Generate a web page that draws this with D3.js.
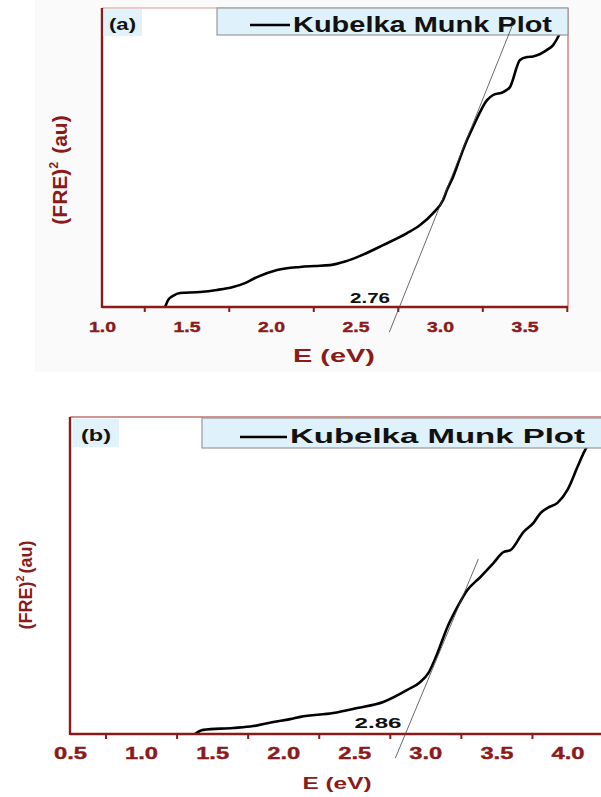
<!DOCTYPE html>
<html>
<head>
<meta charset="utf-8">
<script src="https://d3js.org/d3.v7.min.js"></script>
<style>
  body { margin: 0; background: #fff; }
  svg { display: block; font-family: "Liberation Sans", Arial, sans-serif; }
</style>
</head>
<body>
<svg id="chart" width="601" height="797"></svg>
<script>
// panel (a) curve: photon energy (eV) vs (FRE)^2, normalised to the plot height
var energyA = [1.373, 1.391, 1.420, 1.462, 1.580, 1.680, 1.775, 1.846, 1.917, 2.036, 2.172, 2.260, 2.349, 2.438, 2.527, 2.663, 2.805, 2.882, 2.959, 3.018, 3.041, 3.077, 3.118, 3.160, 3.195, 3.278, 3.314, 3.373, 3.414, 3.473, 3.515, 3.550, 3.633, 3.669, 3.698, 3.734];
var freA    = [0.000, 0.023, 0.037, 0.047, 0.050, 0.057, 0.067, 0.080, 0.100, 0.124, 0.134, 0.137, 0.140, 0.152, 0.171, 0.207, 0.247, 0.274, 0.314, 0.358, 0.391, 0.435, 0.498, 0.559, 0.602, 0.692, 0.709, 0.719, 0.736, 0.826, 0.836, 0.838, 0.860, 0.876, 0.903, 0.950];
// panel (b) curve
var energyB = [1.380, 1.437, 1.648, 1.789, 1.930, 2.049, 2.120, 2.352, 2.521, 2.704, 2.873, 2.965, 3.021, 3.085, 3.155, 3.225, 3.296, 3.387, 3.479, 3.549, 3.599, 3.690, 3.761, 3.810, 3.859, 3.930, 4.000, 4.070, 4.113, 4.162, 4.211];
var freB    = [0.000, 0.013, 0.019, 0.025, 0.038, 0.047, 0.054, 0.066, 0.082, 0.101, 0.139, 0.164, 0.192, 0.255, 0.337, 0.400, 0.454, 0.495, 0.539, 0.574, 0.580, 0.637, 0.666, 0.697, 0.713, 0.729, 0.770, 0.842, 0.886, 0.927, 0.970];

// tangent (extrapolation) lines, [E, y] end points
var tangentA = [[2.70, -0.084], [3.43, 0.945]];
var tangentB = [[2.789, -0.076], [3.373, 0.552]];
var gapA = "2.76", gapB = "2.86";

var ticksA = [1.0, 1.5, 2.0, 2.5, 3.0, 3.5];
var minorA = [1.25, 1.75, 2.25, 2.75, 3.25, 3.75];
var ticksB = [0.5, 1.0, 1.5, 2.0, 2.5, 3.0, 3.5, 4.0];
var minorB = [0.75, 1.25, 1.75, 2.25, 2.75, 3.25, 3.75, 4.25];

var legendText = "Kubelka Munk Plot";
var red = "#8b1a1a";

var svg = d3.select("#chart");

var drawPanel = function(p) {
	var x = d3.scaleLinear().domain(p.xdom).range([p.left, p.right]);
	var y = d3.scaleLinear().domain([0, 1]).range([p.bottom, p.top]);
	var g = svg.append("g");

	if (p.bg) {
		g.append("rect").attr("x", p.bg[0]).attr("y", p.bg[1]).attr("width", p.bg[2]).attr("height", p.bg[3]).attr("fill", "#fafafa");
	}
	g.append("rect").attr("x", p.left).attr("y", p.top).attr("width", p.right - p.left).attr("height", p.bottom - p.top).attr("fill", "#fff");

	// frame: top + right light
	g.append("line").attr("x1", p.left).attr("x2", p.right).attr("y1", p.top).attr("y2", p.top)
		.attr("stroke", p.topColor).attr("stroke-width", 1.2);
	if (p.rightBorder) {
		g.append("line").attr("x1", p.right).attr("x2", p.right).attr("y1", p.top).attr("y2", p.bottom)
			.attr("stroke", "#c46a6a").attr("stroke-width", 1.2);
	}

	// curve
	var pts = d3.zip(p.ex, p.ey);
	g.append("path").datum(pts)
		.attr("d", d3.line().x(function(d){ return x(d[0]); }).y(function(d){ return y(d[1]); }).curve(d3.curveMonotoneX))
		.attr("fill", "none").attr("stroke", "#000").attr("stroke-width", 2.6).attr("stroke-linejoin", "round");

	// minor ticks
	var minorAxis = d3.axisBottom(x).tickValues(p.minor).tickSize(5).tickFormat("");
	var gm = g.append("g").attr("transform", "translate(0," + p.bottom + ")").call(minorAxis);
	gm.select(".domain").remove();
	gm.selectAll(".tick line").attr("stroke", red).attr("stroke-width", 2);

	// main axis with labels
	var xAxis = d3.axisBottom(x).tickValues(p.ticks).tickSize(0).tickPadding(0).tickFormat(d3.format(".1f"));
	var gx = g.append("g").attr("transform", "translate(0," + p.bottom + ")").call(xAxis);
	gx.select(".domain").attr("stroke", red).attr("stroke-width", 2.4).attr("d", "M" + p.left + ",0H" + p.right);
	gx.selectAll(".tick text")
		.attr("y", p.tickDy).attr("dy", 0)
		.attr("fill", red).attr("font-size", p.tickFont).attr("font-weight", "bold")
		.attr("font-family", "'Liberation Sans', Arial, sans-serif")
		.attr("stroke", red).attr("stroke-width", 0.4)
		.attr("textLength", p.tickLen).attr("lengthAdjust", "spacingAndGlyphs");

	// left axis line
	g.append("line").attr("x1", p.left).attr("x2", p.left).attr("y1", p.top).attr("y2", p.bottom + 1)
		.attr("stroke", red).attr("stroke-width", 2.4);

	// x title
	g.append("text").attr("x", p.xTitle[0]).attr("y", p.xTitle[1]).attr("text-anchor", "middle")
		.attr("fill", red).attr("font-weight", "bold").attr("font-size", p.xTitle[2])
		.attr("textLength", p.xTitle[3]).attr("lengthAdjust", "spacingAndGlyphs")
		.text("E (eV)");

	// y title
	var yt = g.append("text")
		.attr("transform", "translate(" + p.yTitle[0] + "," + p.yTitle[1] + ") rotate(-90)")
		.attr("text-anchor", "middle").attr("fill", red).attr("font-weight", "bold").attr("font-size", p.yTitle[2]);
	yt.append("tspan").text("(FRE)");
	yt.append("tspan").attr("font-size", p.yTitle[2] * 0.6).attr("dy", -p.yTitle[2] * 0.45).text("2");
	yt.append("tspan").attr("dy", p.yTitle[2] * 0.45).attr("dx", 2).text(p.yTitle[3]);

	// panel label box
	g.append("rect").attr("x", p.tag[0]).attr("y", p.tag[1]).attr("width", p.tag[2]).attr("height", p.tag[3]).attr("fill", "#e2f2fb");
	g.append("text").attr("x", p.tag[0] + p.tag[2] / 2).attr("y", p.tag[1] + p.tag[3] - 6).attr("text-anchor", "middle")
		.attr("font-weight", "bold").attr("font-size", p.tag[4]).attr("fill", "#111")
		.attr("textLength", p.tag[5]).attr("lengthAdjust", "spacingAndGlyphs").text(p.tagText);

	// legend
	var L = p.legend;
	g.append("rect").attr("x", L.x).attr("y", L.y).attr("width", L.w).attr("height", L.h)
		.attr("fill", "#dff1fb").attr("stroke", "#9a9a9a").attr("stroke-width", 1.2);
	g.append("line").attr("x1", L.lx0).attr("x2", L.lx1).attr("y1", L.ly).attr("y2", L.ly).attr("stroke", "#000").attr("stroke-width", 2.6);
	g.append("text").attr("x", L.tx).attr("y", L.ty).attr("font-weight", "bold").attr("font-size", L.font).attr("fill", "#111")
		.attr("textLength", L.tw).attr("lengthAdjust", "spacingAndGlyphs").text(legendText);

	// tangent line
	g.append("line")
		.attr("x1", x(p.tangent[0][0])).attr("y1", y(p.tangent[0][1]))
		.attr("x2", x(p.tangent[1][0])).attr("y2", y(p.tangent[1][1]))
		.attr("stroke", "#444").attr("stroke-width", 0.8);

	// band gap value
	g.append("text").attr("x", p.gapPos[0]).attr("y", p.gapPos[1]).attr("text-anchor", "middle")
		.attr("font-weight", "bold").attr("font-size", p.gapPos[2]).attr("fill", "#111")
		.attr("textLength", p.gapPos[3]).attr("lengthAdjust", "spacingAndGlyphs").text(p.gap);
};

drawPanel({
	xdom: [1.0, 3.757], left: 102, right: 568, top: 8, bottom: 307,
	bg: [35, 0, 566, 372], topColor: "#d49a9a", rightBorder: true,
	ex: energyA, ey: freA, ticks: ticksA, minor: minorA,
	tickDy: 25, tickFont: 15, tickLen: 27,
	xTitle: [334, 362, 19, 82],
	yTitle: [67, 170, 21, " (au)"],
	tag: [103, 9, 39, 27, 17, 27], tagText: "(a)",
	legend: { x: 217, y: 8, w: 351, h: 27, lx0: 250, lx1: 290, ly: 25, tx: 293, ty: 32, font: 22, tw: 259 },
	tangent: tangentA, gap: gapA, gapPos: [370, 303, 15, 40]
});

drawPanel({
	xdom: [0.5, 4.25], left: 70, right: 603, top: 417, bottom: 734,
	bg: null, topColor: "#a02a2a", rightBorder: false,
	ex: energyB, ey: freB, ticks: ticksB, minor: minorB,
	tickDy: 25, tickFont: 17, tickLen: 33,
	xTitle: [337, 789, 16, 69],
	yTitle: [32, 585, 18, "(au)"],
	tag: [73, 419, 46, 28, 17, 30], tagText: "(b)",
	legend: { x: 202, y: 418, w: 402, h: 30, lx0: 240, lx1: 287, ly: 437, tx: 290, ty: 443, font: 21, tw: 295 },
	tangent: tangentB, gap: gapB, gapPos: [378, 728, 15, 47]
});
</script>
</body>
</html>
